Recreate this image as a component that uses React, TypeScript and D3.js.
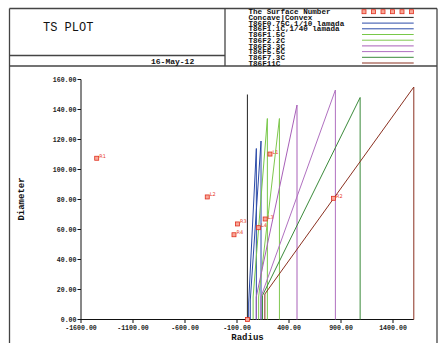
import React from "react";
import * as d3 from "d3";

const xTicks = [-1600, -1100, -600, -100, 400, 900, 1400];
const yTicks = [0, 20, 40, 60, 80, 100, 120, 140, 160];

const legendNames = [
  "Concave|Convex",
  "T86F0.75C,1/10 lamada",
  "T86F1.1C,1/40 lamada",
  "T86F1.5C",
  "T86F2.2C",
  "T86F3.3C",
  "T86F5.5C",
  "T86F7.3C",
  "T86F11C",
];
const legendColors = ["#222222", "#2a4aa8", "#2a4aa8", "#78c848", "#80c850", "#a860b8", "#b070c0", "#3a8a3a", "#8a3020"];

// lens series (after Concave|Convex)
const lowR = [12, 28, 55, 108, 85, 130, 145, 168];
const lowD = [11, 13, 15, 15, 15, 15, 16, 17];
const topR = [86, 131, 192, 308, 477, 846, 1084, 1600];
const topD = [114, 119, 134, 134, 143, 153, 148, 155];

// Concave|Convex vertical
const ccR = 0;
const ccD = 150;

const ptLabels = ["R1", "L2", "R3", "R4", "L3", "L4", "L1", "R2", ""];
const ptR = [-1449, -386, -96, -129, 171, 106, 217, 827, 0];
const ptD = [107.5, 81.7, 63.7, 56.5, 67, 61.2, 110.3, 80.8, 0];

const FONT = "'Liberation Mono', 'DejaVu Sans Mono', monospace";

export default function App() {
  const W = 444, H = 343;
  const x = d3.scaleLinear().domain([-1600, 1600]).range([81, 413.8]);
  const y = d3.scaleLinear().domain([0, 160]).range([319.5, 79.5]);
  const line = d3.line<[number, number]>().x((d) => x(d[0])).y((d) => y(d[1]));

  const legX = 248.5;
  const legY0 = 11.7;
  const legDy = 5.7;

  return (
    <svg width={W} height={H} style={{ position: "absolute", left: 0, top: 0, background: "#fff" }}>
      <rect x={0} y={0} width={W} height={H} fill="#fff" />
      {/* frames */}
      <g stroke="#444" strokeWidth={1.3} fill="none">
        <line x1={9.5} y1={8.5} x2={437} y2={8.5} />
        <line x1={9.5} y1={8.5} x2={9.5} y2={345} />
        <line x1={437} y1={8.5} x2={437} y2={345} />
        <line x1={225} y1={8.5} x2={225} y2={66} />
        <line x1={9.5} y1={55.5} x2={225} y2={55.5} />
        <line x1={9.5} y1={66} x2={437} y2={66} />
      </g>
      <text x={43} y={31} fontFamily={FONT} fontSize={12} fill="#111">TS PLOT</text>
      <text x={151} y={64} fontFamily={FONT} fontSize={8} fontWeight="bold" fill="#111">16-May-12</text>

      {/* legend */}
      <text x={legX} y={legY0 + 2.6} fontFamily={FONT} fontSize={7.6} fontWeight="bold" fill="#111">The Surface Number</text>
      {d3.range(6).map((j) => (
        <rect key={j} x={364 + j * 9.5 - 2} y={legY0 - 2} width={4} height={4} fill="#f8a898" stroke="#e03020" strokeWidth={0.8} />
      ))}
      {legendNames.map((n, i) => (
        <g key={n}>
          <text x={legX} y={legY0 + (i + 1) * legDy + 2.6} fontFamily={FONT} fontSize={7.6} fontWeight="bold" fill="#111">{n}</text>
          <line x1={362} x2={413.7} y1={legY0 + (i + 1) * legDy} y2={legY0 + (i + 1) * legDy} stroke={legendColors[i]} strokeWidth={1} />
        </g>
      ))}

      {/* axes */}
      <g stroke="#111" strokeWidth={1}>
        <line x1={x(-1600)} x2={x(-1600)} y1={y(0)} y2={y(160)} />
        <line x1={x(-1600)} x2={x(1600)} y1={y(0)} y2={y(0)} />
        {yTicks.map((t) => (
          <line key={t} x1={x(-1600) - 3.5} x2={x(-1600)} y1={y(t)} y2={y(t)} />
        ))}
        {xTicks.map((t) => (
          <line key={t} x1={x(t)} x2={x(t)} y1={y(0)} y2={y(0) + 3.5} />
        ))}
      </g>
      {yTicks.map((t) => (
        <text key={t} x={x(-1600) - 4.5} y={y(t) + 2.3} textAnchor="end" fontFamily={FONT} fontSize={6.6} fontWeight="bold" fill="#222">{t.toFixed(2)}</text>
      ))}
      {xTicks.map((t) => (
        <text key={t} x={x(t)} y={y(0) + 10} textAnchor="middle" fontFamily={FONT} fontSize={6.6} fontWeight="bold" fill="#222">{t.toFixed(2)}</text>
      ))}
      <text x={247.5} y={339.5} textAnchor="middle" fontFamily={FONT} fontSize={9} fontWeight="bold" fill="#111">Radius</text>
      <text transform={`translate(23.5,199) rotate(-90)`} textAnchor="middle" fontFamily={FONT} fontSize={9} fontWeight="bold" fill="#111">Diameter</text>

      {/* data lines */}
      <path d={line([[ccR, 0], [ccR, ccD]]) || ""} stroke={legendColors[0]} strokeWidth={1} fill="none" />
      {topR.map((tr, i) => (
        <path
          key={i}
          d={line([[lowR[i], 0], [lowR[i], lowD[i]], [tr, topD[i]], [tr, 0]]) || ""}
          stroke={legendColors[i + 1]}
          strokeWidth={1}
          fill="none"
        />
      ))}

      {/* points */}
      {ptR.map((r, i) => (
        <g key={i}>
          <rect x={x(r) - 2} y={y(ptD[i]) - 2} width={4} height={4} fill="#f8a898" stroke="#e03020" strokeWidth={0.8} />
          {ptLabels[i] && (
            <text x={x(r) + 2.5} y={y(ptD[i]) - 0.5} fontFamily="'DejaVu Sans', sans-serif" fontSize={5} fill="#e84030">{ptLabels[i]}</text>
          )}
        </g>
      ))}
    </svg>
  );
}
